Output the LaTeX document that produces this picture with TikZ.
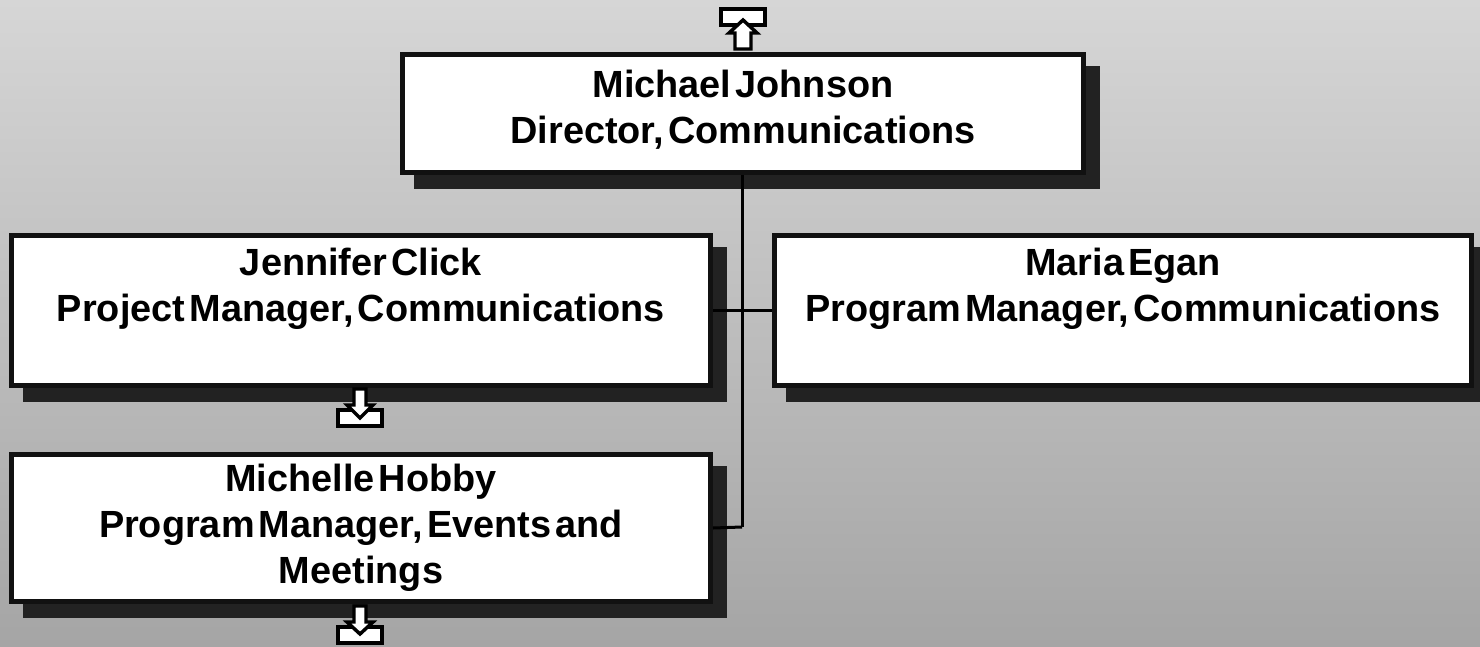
\documentclass[tikz,border=0pt]{standalone}
\usepackage{fontspec}
\setmainfont{Liberation Sans}[WordSpace=0.4]
\usetikzlibrary{shadows}
\definecolor{bgtop}{HTML}{D6D6D6}
\definecolor{bgbot}{HTML}{A5A5A5}
\definecolor{boxline}{HTML}{111111}
\definecolor{shadowcol}{HTML}{222222}
\tikzset{
  orgbox/.style={draw=boxline, line width=3.75pt, fill=white, inner sep=0pt,
    general shadow={fill=shadowcol, draw=shadowcol, line width=3.75pt,
      shadow xshift=10.5pt, shadow yshift=-10.5pt}},
  orgtext/.style={font=\bfseries\fontsize{28.4}{34.5}\selectfont, align=center, inner sep=0pt, text=black},
  link/.style={line width=2.25pt, draw=black},
  iconbox/.style={draw=black, line width=3pt, fill=white},
  iconarrow/.style={draw=black, line width=2.6pt, fill=white, line join=miter}
}
\begin{document}
\begin{tikzpicture}[x=0.75pt,y=-0.75pt]
\shade[top color=bgtop, bottom color=bgbot] (0,0) rectangle (1480,646);
\useasboundingbox (0,0) rectangle (1480,646);

% boxes
\node[orgbox, minimum width=510.75pt, minimum height=88.5pt] (top) at (743,113.5) {};
\node[orgbox, minimum width=524.25pt, minimum height=112.5pt] (jen) at (361,310.5) {};
\node[orgbox, minimum width=522.75pt, minimum height=112.5pt] (mar) at (1123,310.5) {};
\node[orgbox, minimum width=524.25pt, minimum height=110.25pt] (mic) at (361,528) {};

% texts
\node[orgtext] (toptext) at (743,109.5) {Michael Johnson\\Director, Communications};
\node[orgtext] (jentext) at (361,288.5) {Jennifer Click\\Project Manager, Communications};
\node[orgtext] (martext) at (1123,288.5) {Maria Egan\\Program Manager, Communications};
\node[orgtext] (mictext) at (361,528) {Michelle Hobby\\Program Manager, Events and\\Meetings};

% connectors
\coordinate (vend) at (742,527);
\draw[link] (top.south -| vend) -- (vend);
\draw[link] (jen.east) -- (mar.west);
\draw[link] (mic.east) -- (vend);

% icons
\draw[iconbox] (721,9) rectangle (765,25);
\draw[iconarrow] (735,49) -- (735,33) -- (729,33) -- (743,20) -- (757,33) -- (751,33) -- (751,49) -- cycle;

\draw[iconbox] (338,410) rectangle (382,426);
\draw[iconarrow] (354,389) -- (354,405) -- (347,405) -- (360,418) -- (373,405) -- (366,405) -- (366,389) -- cycle;

\draw[iconbox] (338,627) rectangle (382,643);
\draw[iconarrow] (354,606) -- (354,622) -- (347,622) -- (360,634) -- (373,622) -- (366,622) -- (366,606) -- cycle;
\end{tikzpicture}
\end{document}
